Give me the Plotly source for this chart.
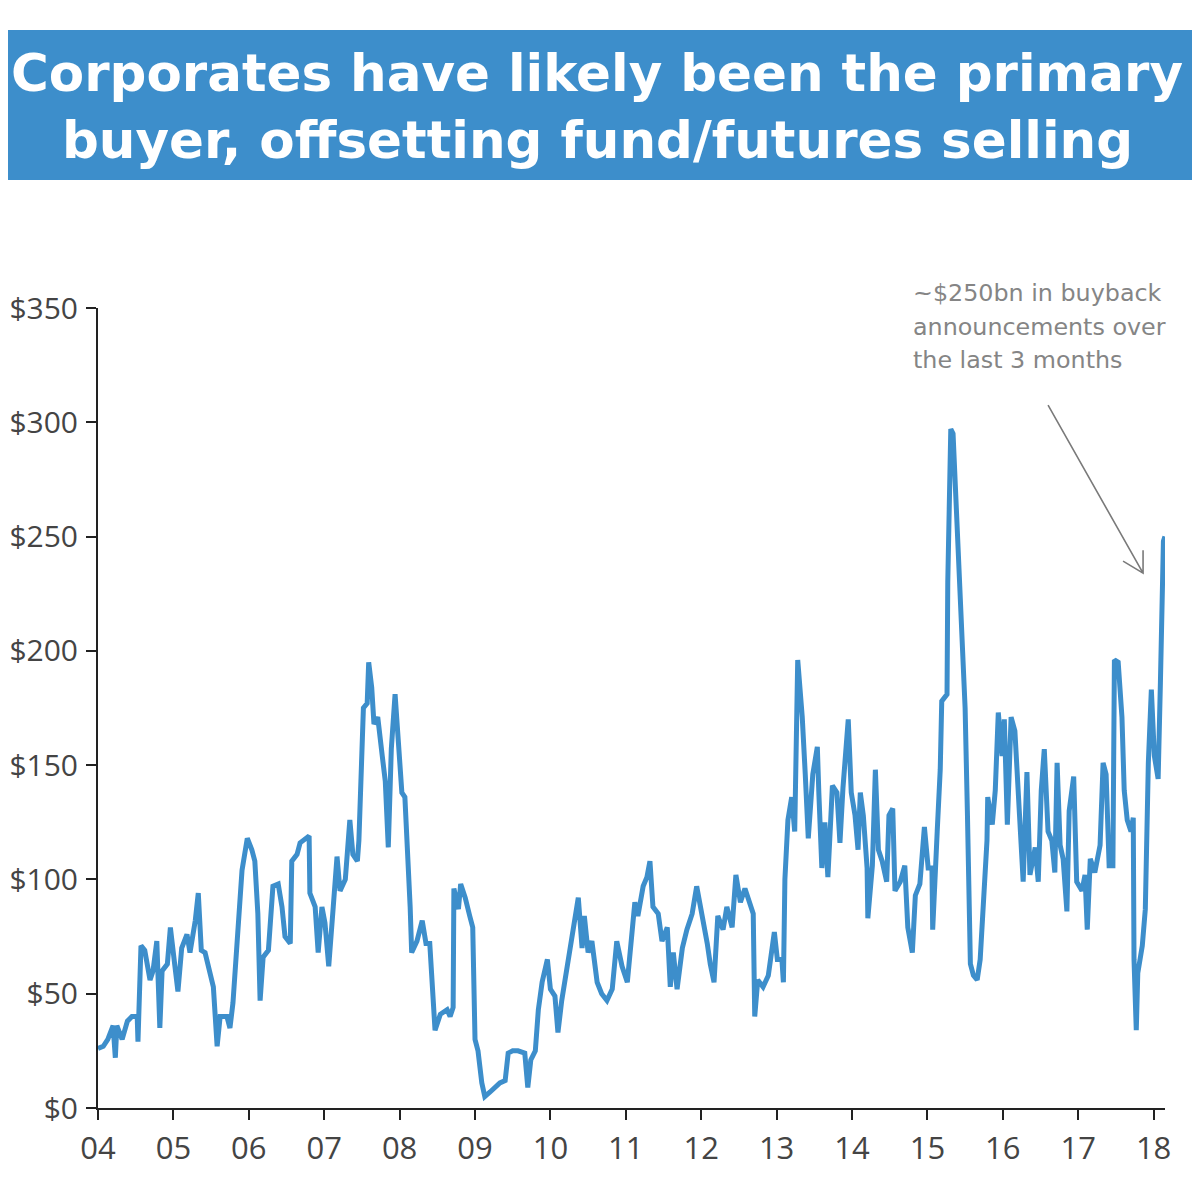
import plotly.graph_objects as go

# Decimal-year time stamps and buyback values ($bn)
years = [
    2004.00, 2004.07, 2004.13, 2004.20, 2004.23, 2004.25, 2004.32, 2004.39, 2004.45, 2004.52,
    2004.53, 2004.57, 2004.62, 2004.69, 2004.73, 2004.78, 2004.82, 2004.85, 2004.92, 2004.96,
    2005.02, 2005.06, 2005.11, 2005.18, 2005.22, 2005.29, 2005.33, 2005.37, 2005.42, 2005.49,
    2005.53, 2005.58, 2005.62, 2005.71, 2005.75, 2005.79, 2005.86, 2005.91, 2005.98, 2006.04,
    2006.08, 2006.12, 2006.15, 2006.19, 2006.26, 2006.32, 2006.39, 2006.44, 2006.48, 2006.55,
    2006.57, 2006.64, 2006.68, 2006.72, 2006.80, 2006.81, 2006.88, 2006.92, 2006.97, 2007.01,
    2007.06, 2007.12, 2007.17, 2007.21, 2007.28, 2007.34, 2007.38, 2007.44, 2007.46, 2007.52,
    2007.57, 2007.59, 2007.63, 2007.66, 2007.71, 2007.77, 2007.81, 2007.85, 2007.89, 2007.94,
    2007.98, 2008.03, 2008.07, 2008.10, 2008.14, 2008.16, 2008.23, 2008.30, 2008.35, 2008.40,
    2008.44, 2008.47, 2008.54, 2008.63, 2008.67, 2008.71, 2008.72, 2008.78, 2008.81, 2008.87,
    2008.93, 2008.97, 2009.00, 2009.04, 2009.09, 2009.13, 2009.20, 2009.27, 2009.33, 2009.40,
    2009.44, 2009.50, 2009.57, 2009.66, 2009.70, 2009.74, 2009.80, 2009.84, 2009.89, 2009.96,
    2010.00, 2010.06, 2010.10, 2010.15, 2010.19, 2010.25, 2010.30, 2010.37, 2010.42, 2010.45,
    2010.50, 2010.55, 2010.62, 2010.68, 2010.75, 2010.82, 2010.88, 2010.95, 2011.02, 2011.08,
    2011.12, 2011.16, 2011.23, 2011.28, 2011.32, 2011.36, 2011.43, 2011.48, 2011.55, 2011.59,
    2011.63, 2011.68, 2011.75, 2011.81, 2011.88, 2011.94, 2012.01, 2012.08, 2012.12, 2012.17,
    2012.22, 2012.29, 2012.34, 2012.41, 2012.46, 2012.52, 2012.58, 2012.65, 2012.69, 2012.71,
    2012.75, 2012.82, 2012.89, 2012.97, 2013.01, 2013.07, 2013.09, 2013.11, 2013.15, 2013.20,
    2013.24, 2013.28, 2013.34, 2013.38, 2013.42, 2013.48, 2013.54, 2013.56, 2013.60, 2013.64,
    2013.68, 2013.74, 2013.80, 2013.84, 2013.88, 2013.95, 2013.99, 2014.04, 2014.08, 2014.11,
    2014.15, 2014.20, 2014.21, 2014.27, 2014.31, 2014.35, 2014.40, 2014.46, 2014.49, 2014.54,
    2014.57, 2014.64, 2014.70, 2014.74, 2014.80, 2014.84, 2014.90, 2014.96, 2015.01, 2015.06,
    2015.07, 2015.13, 2015.17, 2015.19, 2015.26, 2015.27, 2015.31, 2015.34, 2015.38, 2015.41,
    2015.46, 2015.50, 2015.53, 2015.57, 2015.61, 2015.66, 2015.70, 2015.74, 2015.79, 2015.80,
    2015.86, 2015.90, 2015.94, 2015.99, 2016.02, 2016.06, 2016.11, 2016.16, 2016.20, 2016.26,
    2016.27, 2016.32, 2016.36, 2016.43, 2016.47, 2016.51, 2016.55, 2016.60, 2016.65, 2016.69,
    2016.72, 2016.76, 2016.80, 2016.85, 2016.88, 2016.94, 2016.98, 2017.05, 2017.09, 2017.12,
    2017.16, 2017.22, 2017.29, 2017.33, 2017.37, 2017.41, 2017.46, 2017.48, 2017.53, 2017.58,
    2017.61, 2017.65, 2017.70, 2017.73, 2017.74, 2017.77, 2017.79, 2017.85, 2017.89, 2017.93,
    2017.97, 2018.01, 2018.06, 2018.09, 2018.13, 2018.15,
]
values = [
    26, 27, 30, 36, 22, 36, 30, 38, 40, 40,
    29, 71, 69, 56, 60, 73, 35, 60, 63, 79,
    62, 51, 70, 76, 68, 82, 94, 69, 68, 57,
    53, 27, 40, 40, 35, 46, 82, 104, 118, 113,
    108, 85, 47, 66, 69, 97, 98, 88, 75, 72,
    108, 111, 116, 117, 119, 94, 88, 68, 88, 81,
    62, 88, 110, 95, 100, 126, 111, 108, 117, 175,
    177, 195, 184, 168, 171, 154, 143, 114, 157, 181,
    161, 138, 136, 117, 88, 68, 73, 82, 72, 72,
    53, 34, 41, 43, 40, 44, 96, 87, 98, 92,
    84, 79, 30, 25, 11, 5, 7, 9, 11, 12,
    24, 25, 25, 24, 9, 21, 25, 43, 55, 65,
    52, 49, 33, 47, 55, 68, 77, 92, 70, 84,
    68, 73, 55, 50, 47, 52, 73, 62, 55, 73,
    90, 84, 97, 101, 108, 88, 85, 73, 79, 53,
    68, 52, 70, 78, 85, 97, 85, 72, 63, 55,
    84, 78, 88, 79, 102, 90, 96, 88, 85, 40,
    56, 53, 58, 77, 65, 65, 55, 100, 126, 136,
    121, 196, 171, 146, 118, 146, 158, 138, 105, 125,
    101, 141, 138, 116, 140, 170, 138, 128, 113, 138,
    128, 105, 83, 106, 148, 113, 108, 99, 128, 131,
    95, 99, 106, 79, 68, 93, 98, 123, 105, 105,
    78, 121, 148, 178, 181, 230, 297, 295, 263, 235,
    202, 175, 130, 63, 58, 56, 65, 87, 117, 136,
    124, 139, 173, 154, 170, 124, 171, 165, 139, 108,
    99, 147, 102, 114, 99, 139, 157, 121, 117, 103,
    151, 115, 109, 86, 130, 145, 99, 95, 102, 78,
    109, 103, 115, 151, 146, 106, 106, 196, 195, 171,
    139, 126, 121, 127, 65, 34, 59, 71, 87, 151,
    183, 154, 144, 186, 248, 250,
]

x_tickvals = list(range(2004, 2019))
x_ticktext = ["04", "05", "06", "07", "08", "09", "10", "11", "12", "13",
              "14", "15", "16", "17", "18"]
y_tickvals = [0, 50, 100, 150, 200, 250, 300, 350]
y_ticktext = ["$0", "$50", "$100", "$150", "$200", "$250", "$300", "$350"]

title_lines = ["Corporates have likely been the primary",
               "buyer, offsetting fund/futures selling"]
note_lines = ["~$250bn in buyback", "announcements over", "the last 3 months"]

BLUE = "#3d8ecb"
GREY_TXT = "#858585"
AX = "#222222"
LBL = "#444444"
FONT = "Open Sans"

fig = go.Figure()
fig.add_trace(go.Scatter(
    x=years, y=values, mode="lines",
    line=dict(color=BLUE, width=5, shape="linear"),
    hoverinfo="skip", showlegend=False,
))

# Page has an 8px body margin; figure is 1192x1192 so it fits the window.
OFF = 8
W = H = 1192
L, R, T, B = 98 - OFF, 35, 308 - OFF, 92
PW, PH = W - L - R, H - T - B
def px(xs):  # screen px -> paper
    return (xs - OFF - L) / PW
def py(ys):
    return (H - B - (ys - OFF)) / PH

shapes = [
    dict(type="rect", xref="paper", yref="paper",
         x0=px(0), x1=px(1205), y0=py(180), y1=py(30),
         fillcolor=BLUE, line=dict(width=0), layer="below"),
    # arrow (line + open chevron), anchored at the tip in data coords
    dict(type="path", xref="x", yref="y", xsizemode="pixel", ysizemode="pixel",
         xanchor=2017.86, yanchor=234,
         path="M -95,168 L 0,0 M -20,12 L 0,0 L 0,23",
         line=dict(color="#7a7a7a", width=1.6)),
]

annotations = [
    dict(xref="paper", yref="paper", x=px(597), y=py(73), text=f"<b>{title_lines[0]}</b>",
         showarrow=False, font=dict(family="DejaVu Sans", size=51.5, color="white"),
         xanchor="center", yanchor="middle"),
    dict(xref="paper", yref="paper", x=px(597), y=py(140), text=f"<b>{title_lines[1]}</b>",
         showarrow=False, font=dict(family="DejaVu Sans", size=51.5, color="white"),
         xanchor="center", yanchor="middle"),
]
for ln, yy in zip(note_lines, [293, 327, 360]):
    annotations.append(dict(xref="paper", yref="paper", x=px(911), y=py(yy), text=ln,
                            showarrow=False, font=dict(family="DejaVu Sans", size=23.8, color=GREY_TXT),
                            xanchor="left", yanchor="middle"))

fig.update_layout(
    width=W, height=H,
    margin=dict(l=L, r=R, t=T, b=B, pad=0, autoexpand=False),
    paper_bgcolor="white", plot_bgcolor="white",
    shapes=shapes, annotations=annotations,
    xaxis=dict(range=[2004, 2018.151], tickmode="array", tickvals=x_tickvals, ticktext=x_ticktext,
               showgrid=False, zeroline=False, showline=True, linecolor=AX, linewidth=2,
               ticks="outside", ticklen=10, tickwidth=2, tickcolor=AX, automargin=False,
               tickfont=dict(family=FONT, size=31, color=LBL), ticklabelstandoff=2),
    yaxis=dict(range=[0, 350], tickmode="array", tickvals=y_tickvals, ticktext=y_ticktext,
               showgrid=False, zeroline=False, showline=True, linecolor=AX, linewidth=2,
               ticks="outside", ticklen=10, tickwidth=2, tickcolor=AX, automargin=False,
               tickfont=dict(family=FONT, size=30, color=LBL), ticklabelstandoff=2),
)

fig.write_html("out.html")
